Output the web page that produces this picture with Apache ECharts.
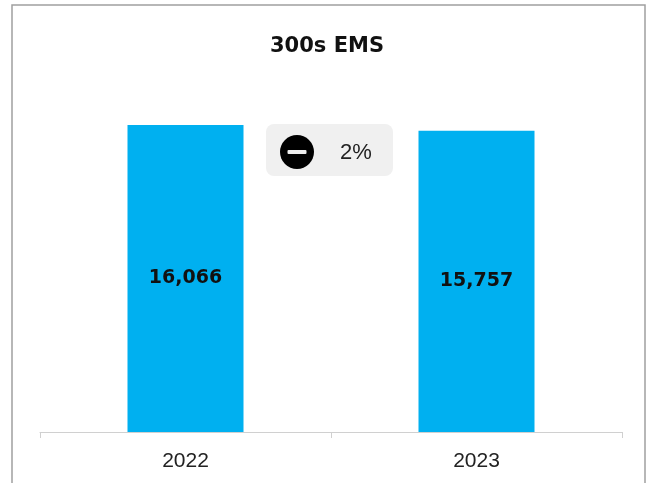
<!DOCTYPE html>
<html><head><meta charset="utf-8">
<script src="https://cdn.jsdelivr.net/npm/echarts@6/dist/echarts.min.js"></script>
<style>html,body{margin:0;padding:0;background:#fff}#c{width:654px;height:483px}</style>
</head><body><div id="c"></div>
<script>
const categories = ['2022', '2023'];
const values = [16066, 15757];
const titleText = '300s EMS';
const changeText = '2%';

const chart = echarts.init(document.getElementById('c'), null, {renderer: 'canvas'});
chart.setOption({
  animation: false,
  title: {text: titleText, left: 'center', top: 31,
    textStyle: {fontFamily: 'DejaVu Sans', fontWeight: 'bold', fontSize: 21, color: '#111'}},
  grid: {left: 40, right: 32, top: 88, bottom: 51, containLabel: false},
  xAxis: {type: 'category', data: categories,
    axisLine: {lineStyle: {color: '#d0d0d0'}},
    axisTick: {show: true, length: 6, lineStyle: {color: '#d0d0d0'}},
    axisLabel: {fontFamily: 'Liberation Sans', fontSize: 21, color: '#222', margin: 19}},
  yAxis: {type: 'value', min: 0, max: 18000, show: false, splitLine: {show: false}},
  series: [{type: 'bar', data: values, barWidth: 116,
    itemStyle: {color: '#00b0f0'},
    label: {show: true, position: 'inside',
      formatter: p => p.value.toLocaleString('en-US'),
      fontFamily: 'DejaVu Sans', fontWeight: 'bold', fontSize: 19, color: '#111'}}],
  graphic: [
    {type: 'rect', shape: {x: 12, y: 5, width: 633, height: 500}, style: {fill: 'none', stroke: '#a0a0a0', lineWidth: 1.5}, silent: true},
    {type: 'rect', shape: {x: 266, y: 124, width: 127, height: 52, r: 8}, style: {fill: '#f0f0f0'}},
    {type: 'circle', shape: {cx: 297, cy: 152, r: 17}, style: {fill: '#000'}},
    {type: 'rect', shape: {x: 287.5, y: 150, width: 19, height: 4, r: 1}, style: {fill: '#eee'}},
    {type: 'text', style: {x: 356, y: 153, text: changeText, textAlign: 'center', textVerticalAlign: 'middle',
      fontFamily: 'Liberation Sans', fontSize: 22, fill: '#222'}}
  ]
});
</script></body></html>
